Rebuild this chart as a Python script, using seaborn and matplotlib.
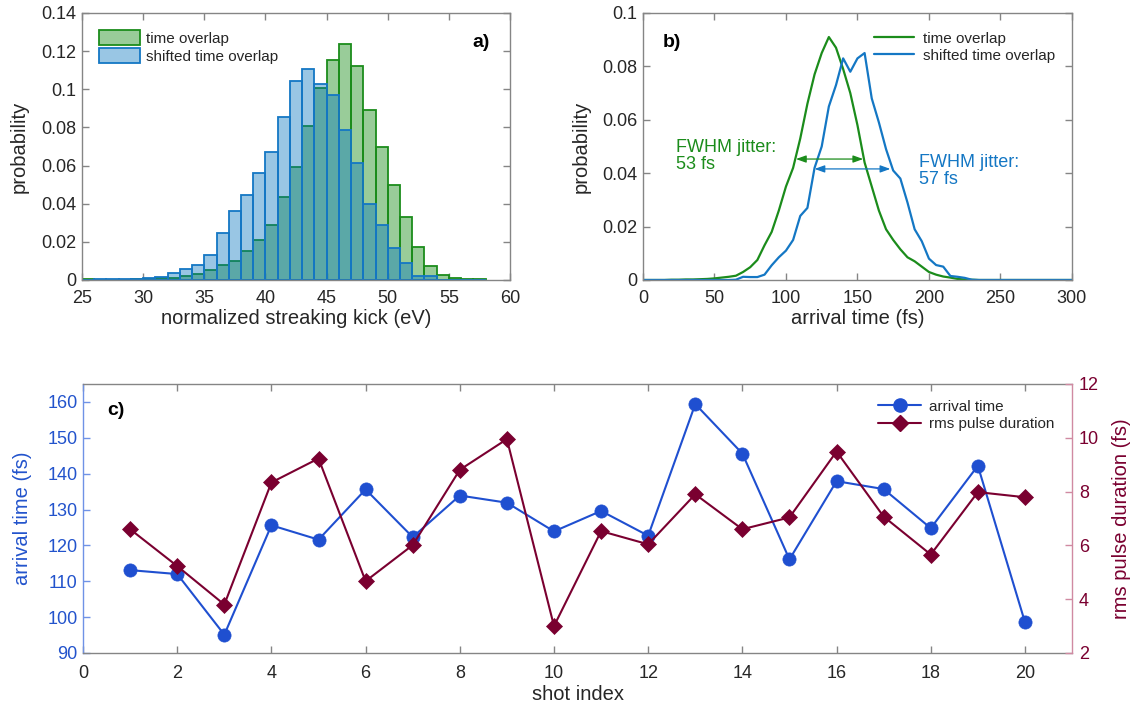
import numpy as np
import pandas as pd
import matplotlib
matplotlib.use("Agg")
import matplotlib.pyplot as plt
import matplotlib.patches as mpatches
from matplotlib.lines import Line2D
import seaborn as sns

# ---------------- data ----------------
# panel a: histogram (1 eV bins, left edges 25..57)
kick_edges = [25, 26, 27, 28, 29, 30, 31, 32, 33, 34, 35, 36, 37, 38, 39, 40, 41,
              42, 43, 44, 45, 46, 47, 48, 49, 50, 51, 52, 53, 54, 55, 56, 57, 58]
prob_overlap = [0.0003, 0.0001, 0.0001, 0.0001, 0.0003, 0.0007, 0.0010, 0.0013, 0.0020,
                0.0030, 0.0050, 0.0080, 0.0100, 0.0154, 0.0210, 0.0290, 0.0436, 0.0590,
                0.0806, 0.1009, 0.1152, 0.1236, 0.1124, 0.0890, 0.0695, 0.0499, 0.0330,
                0.0173, 0.0075, 0.0024, 0.0010, 0.0003, 0.0003]
prob_shifted = [0.0001, 0.0003, 0.0003, 0.0003, 0.0003, 0.0012, 0.0017, 0.0035, 0.0056,
                0.0080, 0.0129, 0.0244, 0.0363, 0.0447, 0.0560, 0.0672, 0.0853, 0.1044,
                0.1105, 0.1026, 0.0972, 0.0784, 0.0614, 0.0396, 0.0290, 0.0169, 0.0091,
                0.0019, 0.0019, 0.0, 0.0, 0.0, 0.0]

# panel b: arrival time distributions
t_fs = [0, 5, 10, 15, 20, 25, 30, 35, 40, 45, 50, 55, 60, 65, 70, 75, 80, 85, 90, 95,
        100, 105, 110, 115, 120, 125, 130, 135, 140, 145, 150, 155, 160, 165, 170, 175,
        180, 185, 190, 195, 200, 205, 210, 215, 220, 225, 230, 235, 240, 245, 250, 255,
        260, 265, 270, 275, 280, 285, 290, 295, 300]
p_overlap = [0, 0, 0, 0, 0.0001, 0.0001, 0.0002, 0.0002, 0.0003, 0.0004, 0.0006, 0.0009,
             0.0012, 0.0016, 0.0030, 0.0048, 0.0075, 0.0130, 0.0180, 0.0260, 0.0350,
             0.0420, 0.0530, 0.0660, 0.0770, 0.0850, 0.0910, 0.0870, 0.0790, 0.0700,
             0.0580, 0.0440, 0.0350, 0.0260, 0.0190, 0.0150, 0.0115, 0.0085, 0.0070,
             0.0050, 0.0030, 0.0020, 0.0013, 0.0009, 0.0004, 0.0002, 0.0001, 0, 0, 0,
             0, 0, 0, 0, 0, 0, 0, 0, 0, 0, 0]
p_shifted = [0, 0, 0, 0, 0, 0, 0, 0, 0, 0, 0, 0, 0, 0.0001, 0.0012, 0.0011, 0.0011,
             0.0020, 0.0055, 0.0085, 0.0110, 0.0150, 0.0240, 0.0270, 0.0420, 0.0500,
             0.0650, 0.0730, 0.0830, 0.0780, 0.0830, 0.0850, 0.0680, 0.0590, 0.0490,
             0.0410, 0.0380, 0.0290, 0.0190, 0.0145, 0.0080, 0.0056, 0.0050, 0.0015,
             0.0012, 0.0008, 0.0001, 0, 0, 0, 0, 0, 0, 0, 0, 0, 0, 0, 0, 0, 0]
fwhm_overlap = (107, 154, 0.0453)
fwhm_shifted = (120, 173, 0.0416)

# panel c: single shots
shot_index = [1, 2, 3, 4, 5, 6, 7, 8, 9, 10, 11, 12, 13, 14, 15, 16, 17, 18, 19, 20]
arrival_time = [113.1, 112.0, 95.1, 125.6, 121.6, 135.6, 122.3, 133.9, 131.9, 123.9,
                129.6, 122.7, 159.4, 145.6, 116.1, 137.9, 135.7, 124.8, 142.2, 98.6]
rms_duration = [6.60, 5.23, 3.80, 8.34, 9.23, 4.67, 6.01, 8.81, 9.95, 3.00,
                6.53, 6.04, 7.90, 6.60, 7.04, 9.49, 7.07, 5.66, 7.98, 7.79]

# ---------------- style ----------------
sns.set_theme(style="ticks")
plt.rcParams["font.family"] = ["Liberation Sans", "DejaVu Sans"]
plt.rcParams["xtick.direction"] = "in"
plt.rcParams["ytick.direction"] = "in"
plt.rcParams["axes.linewidth"] = 1.0

GREEN = "#1b8c1b"
BLUE_B = "#1477c4"
BLUE_C = "#1f4fd0"
RED_C = "#7a0030"
FRAME = "#858585"
TXT = "#262626"
TICK_FS = 13
LAB_FS = 14.5

fig = plt.figure(figsize=(11.36, 7.06), dpi=100)
ax_a = fig.add_axes([0.0722, 0.6034, 0.3768, 0.3782])
ax_b = fig.add_axes([0.5660, 0.6034, 0.3776, 0.3782])
ax_c = fig.add_axes([0.0731, 0.0751, 0.8706, 0.3810])


def style_box(ax):
    for s in ax.spines.values():
        s.set_color(FRAME)
        s.set_visible(True)
    ax.tick_params(axis="both", which="both", direction="in", colors=FRAME,
                   labelcolor=TXT, labelsize=TICK_FS, length=5, width=1,
                   top=True, right=True, pad=4)
    ax.tick_params(axis="x", pad=7)


# ---------------- panel a ----------------
centers = np.array(kick_edges[:-1]) + 0.5
sns.histplot(x=centers, weights=prob_overlap, bins=kick_edges, ax=ax_a,
             color=(0.0, 0.5, 0.0), alpha=0.4, edgecolor=GREEN, linewidth=1.3)
sns.histplot(x=centers, weights=prob_shifted, bins=kick_edges, ax=ax_a,
             color=(0.0, 0.447, 0.741), alpha=0.4, edgecolor=BLUE_B, linewidth=1.3)
ax_a.set_xlim(25, 60)
ax_a.set_ylim(0, 0.14)
ax_a.set_xticks([25, 30, 35, 40, 45, 50, 55, 60])
ax_a.set_yticks([0, 0.02, 0.04, 0.06, 0.08, 0.10, 0.12, 0.14])
ax_a.set_yticklabels(["0", "0.02", "0.04", "0.06", "0.08", "0.1", "0.12", "0.14"])
ax_a.set_xlabel("normalized streaking kick (eV)", fontsize=LAB_FS, color=TXT, labelpad=2)
ax_a.set_ylabel("probability", fontsize=LAB_FS, color=TXT, labelpad=9)
style_box(ax_a)
h_a = [mpatches.Patch(facecolor=(0.0, 0.5, 0.0, 0.4), edgecolor=GREEN, linewidth=1.3),
       mpatches.Patch(facecolor=(0.0, 0.447, 0.741, 0.4), edgecolor=BLUE_B, linewidth=1.3)]
ax_a.legend(h_a, ["time overlap", "shifted time overlap"], loc="upper left",
            frameon=False, fontsize=11, handlelength=2.7, handleheight=1.1,
            borderaxespad=0.3, labelspacing=0.15, handletextpad=0.4,
            bbox_to_anchor=(0.015, 0.975))
ax_a.text(0.953, 0.891, "a)", transform=ax_a.transAxes, fontsize=14,
          fontweight="bold", ha="right", va="center", color="black")

# ---------------- panel b ----------------
sns.lineplot(x=t_fs, y=p_overlap, ax=ax_b, color=GREEN, linewidth=1.6,
             sort=False, estimator=None)
sns.lineplot(x=t_fs, y=p_shifted, ax=ax_b, color=BLUE_B, linewidth=1.6,
             sort=False, estimator=None)
ax_b.set_xlim(0, 300)
ax_b.set_ylim(0, 0.1)
ax_b.set_xticks([0, 50, 100, 150, 200, 250, 300])
ax_b.set_yticks([0, 0.02, 0.04, 0.06, 0.08, 0.1])
ax_b.set_yticklabels(["0", "0.02", "0.04", "0.06", "0.08", "0.1"])
ax_b.set_xlabel("arrival time (fs)", fontsize=LAB_FS, color=TXT, labelpad=2)
ax_b.set_ylabel("probability", fontsize=LAB_FS, color=TXT, labelpad=8)
style_box(ax_b)
h_b = [Line2D([], [], color=GREEN, linewidth=1.6),
       Line2D([], [], color=BLUE_B, linewidth=1.6)]
ax_b.legend(h_b, ["time overlap", "shifted time overlap"], loc="upper right",
            frameon=False, fontsize=11, handlelength=2.6, borderaxespad=0.3,
            labelspacing=0.2, handletextpad=0.6, bbox_to_anchor=(0.985, 0.97))
ax_b.text(0.047, 0.891, "b)", transform=ax_b.transAxes, fontsize=14,
          fontweight="bold", ha="left", va="center", color="black")
ax_b.annotate("", xy=(fwhm_overlap[0], fwhm_overlap[2]),
              xytext=(fwhm_overlap[1], fwhm_overlap[2]),
              arrowprops=dict(arrowstyle="<|-|>,head_length=0.5,head_width=0.18",
                              color=GREEN, lw=0.9, shrinkA=0, shrinkB=0))
ax_b.annotate("", xy=(fwhm_shifted[0], fwhm_shifted[2]),
              xytext=(fwhm_shifted[1], fwhm_shifted[2]),
              arrowprops=dict(arrowstyle="<|-|>,head_length=0.5,head_width=0.18",
                              color=BLUE_B, lw=0.9, shrinkA=0, shrinkB=0))
ax_b.text(23, 0.0464, "FWHM jitter:\n53 fs", color=GREEN, fontsize=13,
          ha="left", va="center", linespacing=1.05)
ax_b.text(193, 0.0408, "FWHM jitter:\n57 fs", color=BLUE_B, fontsize=13,
          ha="left", va="center", linespacing=1.05)

# ---------------- panel c ----------------
ax_c2 = ax_c.twinx()
sns.lineplot(x=shot_index, y=arrival_time, ax=ax_c, color=BLUE_C, linewidth=1.5,
             marker="o", markersize=9.5, markeredgecolor=BLUE_C, markeredgewidth=0.5,
             sort=False, estimator=None)
sns.lineplot(x=shot_index, y=rms_duration, ax=ax_c2, color=RED_C, linewidth=1.5,
             marker="D", markersize=8, markeredgecolor=RED_C, markeredgewidth=0.5,
             sort=False, estimator=None)
ax_c.set_xlim(0, 21)
ax_c.set_ylim(90, 165)
ax_c2.set_ylim(2, 12)
ax_c.set_xticks(list(range(0, 21, 2)))
ax_c.set_yticks([90, 100, 110, 120, 130, 140, 150, 160])
ax_c2.set_yticks([2, 4, 6, 8, 10, 12])

for s in ax_c.spines.values():
    s.set_color(FRAME)
ax_c.spines["left"].set_color("#6f92e6")
ax_c.spines["right"].set_visible(False)
ax_c.tick_params(axis="x", direction="in", colors=FRAME, labelcolor=TXT,
                 labelsize=TICK_FS, length=5, width=1, top=True, bottom=True, pad=9)
ax_c.tick_params(axis="y", direction="in", colors="#6f92e6", labelcolor="#2253cc",
                 labelsize=TICK_FS, length=5, width=1, left=True, right=False, pad=4)
for k in ["left", "top", "bottom"]:
    ax_c2.spines[k].set_visible(False)
ax_c2.spines["right"].set_visible(True)
ax_c2.spines["right"].set_color("#d08aa2")
ax_c2.tick_params(axis="y", direction="in", colors="#d08aa2", labelcolor=RED_C,
                  labelsize=TICK_FS, length=5, width=1, right=True, left=False, pad=5)

ax_c.set_xlabel("shot index", fontsize=LAB_FS, color=TXT, labelpad=2)
ax_c.set_ylabel("arrival time (fs)", fontsize=LAB_FS, color="#2253cc", labelpad=11)
ax_c2.set_ylabel("rms pulse duration (fs)", fontsize=LAB_FS, color=RED_C, labelpad=9)
h_c = [Line2D([], [], color=BLUE_C, linewidth=1.5, marker="o", markersize=9.5),
       Line2D([], [], color=RED_C, linewidth=1.5, marker="D", markersize=8)]
ax_c2.legend(h_c, ["arrival time", "rms pulse duration"], loc="upper right",
             frameon=False, fontsize=11, handlelength=2.8, borderaxespad=0.0,
             labelspacing=0.25, handletextpad=0.5, bbox_to_anchor=(0.988, 0.965))
ax_c.text(0.0246, 0.903, "c)", transform=ax_c.transAxes, fontsize=14,
          fontweight="bold", ha="left", va="center", color="black")

fig.savefig("out.png", dpi=100)
